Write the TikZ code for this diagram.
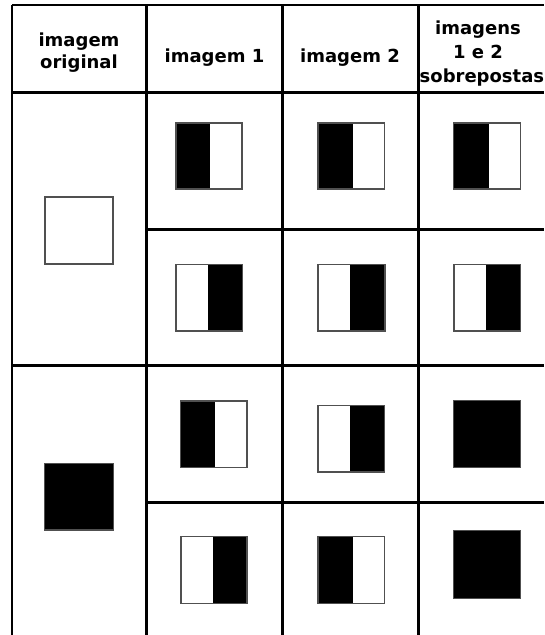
\documentclass[tikz,border=0pt]{standalone}
\usepackage{fontspec}
\setmainfont{DejaVu Sans}
\definecolor{sqgray}{RGB}{80,80,80}
\newcommand\blackleft[5]{%
  \fill[black] (#1,#3) rectangle (#5,#4);
  \draw[sqline] (#1,#3) rectangle (#2,#4);}
\newcommand\blackright[5]{%
  \fill[black] (#5,#3) rectangle (#2,#4);
  \draw[sqline] (#1,#3) rectangle (#2,#4);}
\begin{document}
\begin{tikzpicture}[x=1pt,y=-1pt,
  gridline/.style={line width=3pt, black},
  outerline/.style={line width=2pt, black},
  sqline/.style={draw=sqgray, line width=1.1pt},
  head/.style={font=\fontsize{18}{22}\selectfont\bfseries, inner sep=0pt, anchor=base}]
\useasboundingbox (0,0) rectangle (544,635);
\fill[white] (0,0) rectangle (544,635);
% grid coordinates
\coordinate (t0) at (12,5);   \coordinate (t4) at (544,5);
\coordinate (b0) at (12,635);
\coordinate (v1t) at (146,5); \coordinate (v1b) at (146,635);
\coordinate (v2t) at (282,5); \coordinate (v2b) at (282,635);
\coordinate (v3t) at (418,5); \coordinate (v3b) at (418,635);
\coordinate (h1l) at (12,92.7);  \coordinate (h1r) at (544,92.7);
\coordinate (h2l) at (12,365.5); \coordinate (h2r) at (544,365.5);
\coordinate (s1l) at (146,229.3); \coordinate (s1r) at (544,229.3);
\coordinate (s2l) at (146,502);   \coordinate (s2r) at (544,502);
% lines
\draw[outerline] (t0) -- (t4);
\draw[outerline] (t0) -- (b0);
\draw[gridline] (v1t) -- (v1b);
\draw[gridline] (v2t) -- (v2b);
\draw[gridline] (v3t) -- (v3b);
\draw[gridline] (h1l) -- (h1r);
\draw[gridline] (h2l) -- (h2r);
\draw[gridline] (s1l) -- (s1r);
\draw[gridline] (s2l) -- (s2r);
% header texts
\node[head] (h0a) at (79,46.5) {imagem};
\node[head] (h0b) at (79,68.5) {original};
\node[head] (h1) at (214.5,62) {imagem 1};
\node[head] (h2) at (350,62) {imagem 2};
\node[head] (h3a) at (478,34) {imagens};
\node[head] (h3b) at (478,58) {1 e 2};
\node[head, anchor=base west] (h3c) at (419.5,82) {sobrepostas};
% original images
\draw[sqline, fill=white] (45,197) rectangle (113,264);
\draw[sqline, fill=black] (44.7,463.3) rectangle (113.3,530);
% row 1
\blackleft{176}{242}{123}{189}{210.3}
\blackright{176}{242.3}{264.7}{331}{208}
\blackleft{318}{384.7}{123}{189}{352.7}
\blackright{318}{385}{264.7}{331}{350}
\blackleft{453.7}{520.3}{123}{189}{488.7}
\blackright{454}{520.3}{264.7}{331}{486}
% row 2
\blackleft{180.3}{247}{401}{467.3}{215}
\blackright{181}{247}{536.7}{603.3}{212.7}
\blackright{318}{384.7}{405.7}{472}{350}
\blackleft{318}{384.7}{536.7}{603.3}{352.7}
\draw[sqline, fill=black] (453.7,400.7) rectangle (520.7,467.7);
\draw[sqline, fill=black] (453.7,530.7) rectangle (520.7,598.7);
\end{tikzpicture}
\end{document}
